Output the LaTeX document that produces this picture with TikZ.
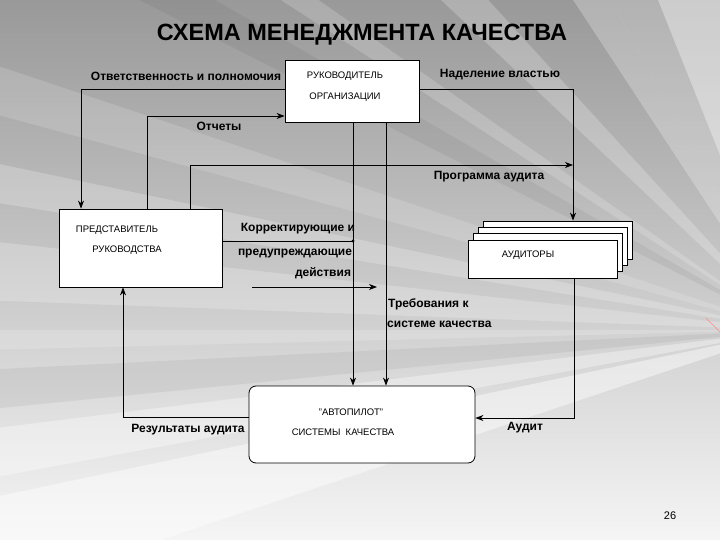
\documentclass[tikz,border=0pt]{standalone}
\usepackage{fontspec}
\setmainfont{Liberation Sans}
\usetikzlibrary{arrows.meta}
\begin{document}
\begin{tikzpicture}[x=1pt,y=-1pt,
  arr/.style={line width=0.8pt,-{Stealth[length=8pt,width=6pt,inset=2.5pt]}},
  conn/.style={line width=0.8pt},
  boxst/.style={draw,line width=0.8pt,fill=white,inner sep=0pt},
  lbl/.style={font=\bfseries\fontsize{12}{14}\selectfont,inner sep=0pt},
  btxt/.style={font=\fontsize{9.5}{11}\selectfont,inner sep=0pt},
  streak/.style={fill=white,fill opacity=#1},
  streak/.default=0.3]
\useasboundingbox (0,0) rectangle (720,540);
\shade[top color=black!40,middle color=black!24,bottom color=black!4] (0,0) rectangle (720,540);
\begin{scope}
\clip (0,0) rectangle (720,540);
\coordinate (F) at (790,330);
\fill[streak=0.18] (F) -- (250,-20) -- (290,-20) -- cycle;
\fill[streak=0.22] (F) -- (420,-20) -- (470,-20) -- cycle;
\fill[streak=0.25] (F) -- (560,-20) -- (600,-20) -- cycle;
\fill[streak=0.35] (F) -- (650,-20) -- (720,-20) -- cycle;
\fill[streak=0.25] (F) -- (600,-20) -- (800,-20) -- cycle;
\fill[streak=0.15] (F) -- (-20,60) -- (-20,110) -- cycle;
\fill[streak=0.22] (F) -- (-20,160) -- (-20,200) -- cycle;
\fill[streak=0.22] (F) -- (-20,240) -- (-20,300) -- cycle;
\fill[streak=0.18] (F) -- (-20,330) -- (-20,350) -- cycle;
\fill[streak=0.35] (F) -- (-20,430) -- (-20,480) -- cycle;
\fill[streak=0.45] (F) -- (-20,500) -- (-20,600) -- cycle;
\fill[black,fill opacity=0.05] (F) -- (-20,370) -- (-20,410) -- cycle;
\fill[black,fill opacity=0.05] (F) -- (100,-20) -- (180,-20) -- cycle;
\draw[red!45,line width=0.6pt] (706,318) -- (720,332);
\end{scope}
\node[font=\bfseries\fontsize{23.5}{28}\selectfont,inner sep=0pt] (title) at (362,35) {СХЕМА МЕНЕДЖМЕНТА КАЧЕСТВА};
% boxes
\node[boxst,minimum width=134pt,minimum height=62pt] (ruk) at (352,91) {};
\node[boxst,minimum width=163pt,minimum height=78pt] (pred) at (140.5,248) {};
\node[boxst,minimum width=149pt,minimum height=38pt] (aud4) at (557.5,240) {};
\node[boxst,minimum width=149pt,minimum height=38pt] (aud3) at (552.5,246) {};
\node[boxst,minimum width=149pt,minimum height=38pt] (aud2) at (547.5,252.5) {};
\node[boxst,minimum width=149pt,minimum height=38pt] (aud1) at (542.5,259) {};
\node[boxst,rounded corners=7pt,minimum width=226pt,minimum height=77pt] (avto) at (362,424.5) {};
% box texts
\node[btxt] (t1) at (345,76) {РУКОВОДИТЕЛЬ};
\node[btxt] (t2) at (345,97) {ОРГАНИЗАЦИИ};
\node[btxt] (t3) at (117,230) {ПРЕДСТАВИТЕЛЬ};
\node[btxt] (t4) at (127,250) {РУКОВОДСТВА};
\node[btxt] (t5) at (528,255) {АУДИТОРЫ};
\node[btxt] (t6) at (351,412) {"АВТОПИЛОТ"};
\node[btxt] (t7) at (343,432) {СИСТЕМЫ\ \ КАЧЕСТВА};
% labels
\node[lbl] (l1) at (186,76) {Ответственность и полномочия};
\node[lbl] (l2) at (500,75) {Наделение властью};
\node[lbl] (l3) at (219,126) {Отчеты};
\node[lbl] (l4) at (489,177) {Программа аудита};
\node[lbl] (l5) at (298,229) {Корректирующие и};
\node[lbl] (l6) at (295,254) {предупреждающие};
\node[lbl] (l7) at (323,273) {действия};
\node[lbl,anchor=west] (l8) at (388,304) {Требования к};
\node[lbl,anchor=west] (l9) at (387,324) {системе качества};
\node[lbl] (l10) at (188,430) {Результаты аудита};
\node[lbl] (l11) at (525,428) {Аудит};
\node[font=\fontsize{11}{13}\selectfont,inner sep=0pt] (pg) at (670,516) {26};
% connectors
\coordinate (o1) at (81,89);
\draw[arr] (o1 -| ruk.west) -- (o1) -- (o1 |- pred.north);
\coordinate (r1) at (147,116);
\draw[arr] (r1 |- pred.north) -- (r1) -- (r1 -| ruk.west);
\coordinate (n1) at (573,89);
\draw[arr] (n1 -| ruk.east) -- (n1) -- (n1 |- aud4.north);
\coordinate (p1) at (190,165);
\draw[arr] (p1 |- pred.north) -- (p1) -- (p1 -| n1);
\coordinate (k1) at (353,241);
\draw[conn] (k1 -| pred.east) -- (k1);
\fill (k1) circle (1.6);
\draw[arr] (k1 |- ruk.south) -- (k1 |- avto.north);
\coordinate (q1) at (386,200);
\draw[arr] (q1 |- ruk.south) -- (q1 |- avto.north);
\coordinate (f1) at (252,287);
\coordinate (f2) at (377,287);
\draw[arr] (f1) -- (f2);
\coordinate (a1) at (574,418);
\draw[arr] (a1 |- aud1.south) -- (a1) -- (a1 -| avto.east);
\coordinate (r2) at (123,417);
\draw[arr] (r2 -| avto.west) -- (r2) -- (r2 |- pred.south);
\end{tikzpicture}
\end{document}
